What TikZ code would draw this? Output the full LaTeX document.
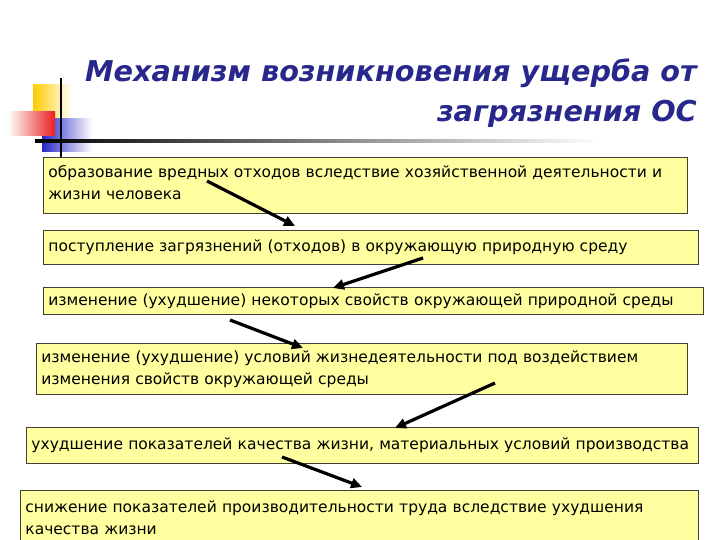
\documentclass[tikz,border=0pt]{standalone}
\usepackage{fontspec}
\setmainfont{DejaVu Sans}
\usetikzlibrary{arrows.meta}
\definecolor{titleblue}{RGB}{40,40,140}
\definecolor{paleyellow}{RGB}{255,255,160}
\definecolor{squareyellow}{RGB}{255,204,0}
\definecolor{squarered}{RGB}{235,30,30}
\definecolor{squareblue}{RGB}{40,40,200}
\begin{document}
\begin{tikzpicture}[x=1pt, y=-1pt, font=\fontsize{15.5}{22}\selectfont,
    box/.style={draw=black!85!yellow, line width=0.8pt, fill=paleyellow, anchor=north west, inner xsep=5pt, inner ysep=0pt, align=left},
    arr/.style={line width=3.2pt, -{Triangle[length=11pt, width=10pt]}},
    heading/.style={text=titleblue, font=\fontsize{28.7}{30}\selectfont\bfseries\itshape, anchor=base east, inner sep=0pt}]
    \useasboundingbox (0,0) rectangle (720,540);
    \shade[left color=squareyellow, middle color=squareyellow!85, right color=white] (33,85) rectangle (72,118);
    \shade[left color=squareblue, middle color=squareblue!90, right color=white] (42,119) rectangle (92,152);
    \shade[left color=white, middle color=squarered!75, right color=squarered] (8,112) rectangle (55,136);
    \draw[line width=2pt] (61,78) -- (61,162);
    \shade[left color=black, middle color=gray!75, right color=white] (35,139.8) rectangle (600,142.6);
    \node[heading] (t1) at (697,82) {Механизм возникновения ущерба от};
    \node[heading] (t2) at (697,122) {загрязнения ОС};
    \node[box, minimum width=644pt, minimum height=56pt, text width=634pt, text depth=28pt] (b1) at (43,157)
        {образование вредных отходов вследствие хозяйственной деятельности и\\жизни человека};
    \node[box, minimum width=655pt, minimum height=34pt, text width=645pt] (b2) at (43,230)
        {поступление загрязнений (отходов) в окружающую природную среду};
    \node[box, minimum width=660pt, minimum height=27pt, text width=650pt] (b3) at (43,287)
        {изменение (ухудшение) некоторых свойств окружающей природной среды};
    \node[box, minimum width=651pt, minimum height=51pt, text width=641pt] (b4) at (36,343)
        {изменение (ухудшение) условий жизнедеятельности под воздействием\\изменения свойств окружающей среды};
    \node[box, minimum width=672pt, minimum height=36pt, text width=662pt] (b5) at (26,427)
        {ухудшение показателей качества жизни, материальных условий производства};
    \node[box, minimum width=678pt, minimum height=54pt, text width=668pt] (b6) at (20,490)
        {снижение показателей производительности труда вследствие ухудшения\\качества жизни};
    \coordinate (s1) at (207,181); \coordinate (e1) at (295,226);
    \coordinate (s2) at (423,258); \coordinate (e2) at (333,288);
    \coordinate (s3) at (230,320); \coordinate (e3) at (303,348);
    \coordinate (s4) at (495,383); \coordinate (e4) at (395,428);
    \coordinate (s5) at (282,457); \coordinate (e5) at (362,487);
    \foreach \n in {1,...,5}
        \draw[arr] (s\n) -- (e\n);
\end{tikzpicture}
\end{document}
